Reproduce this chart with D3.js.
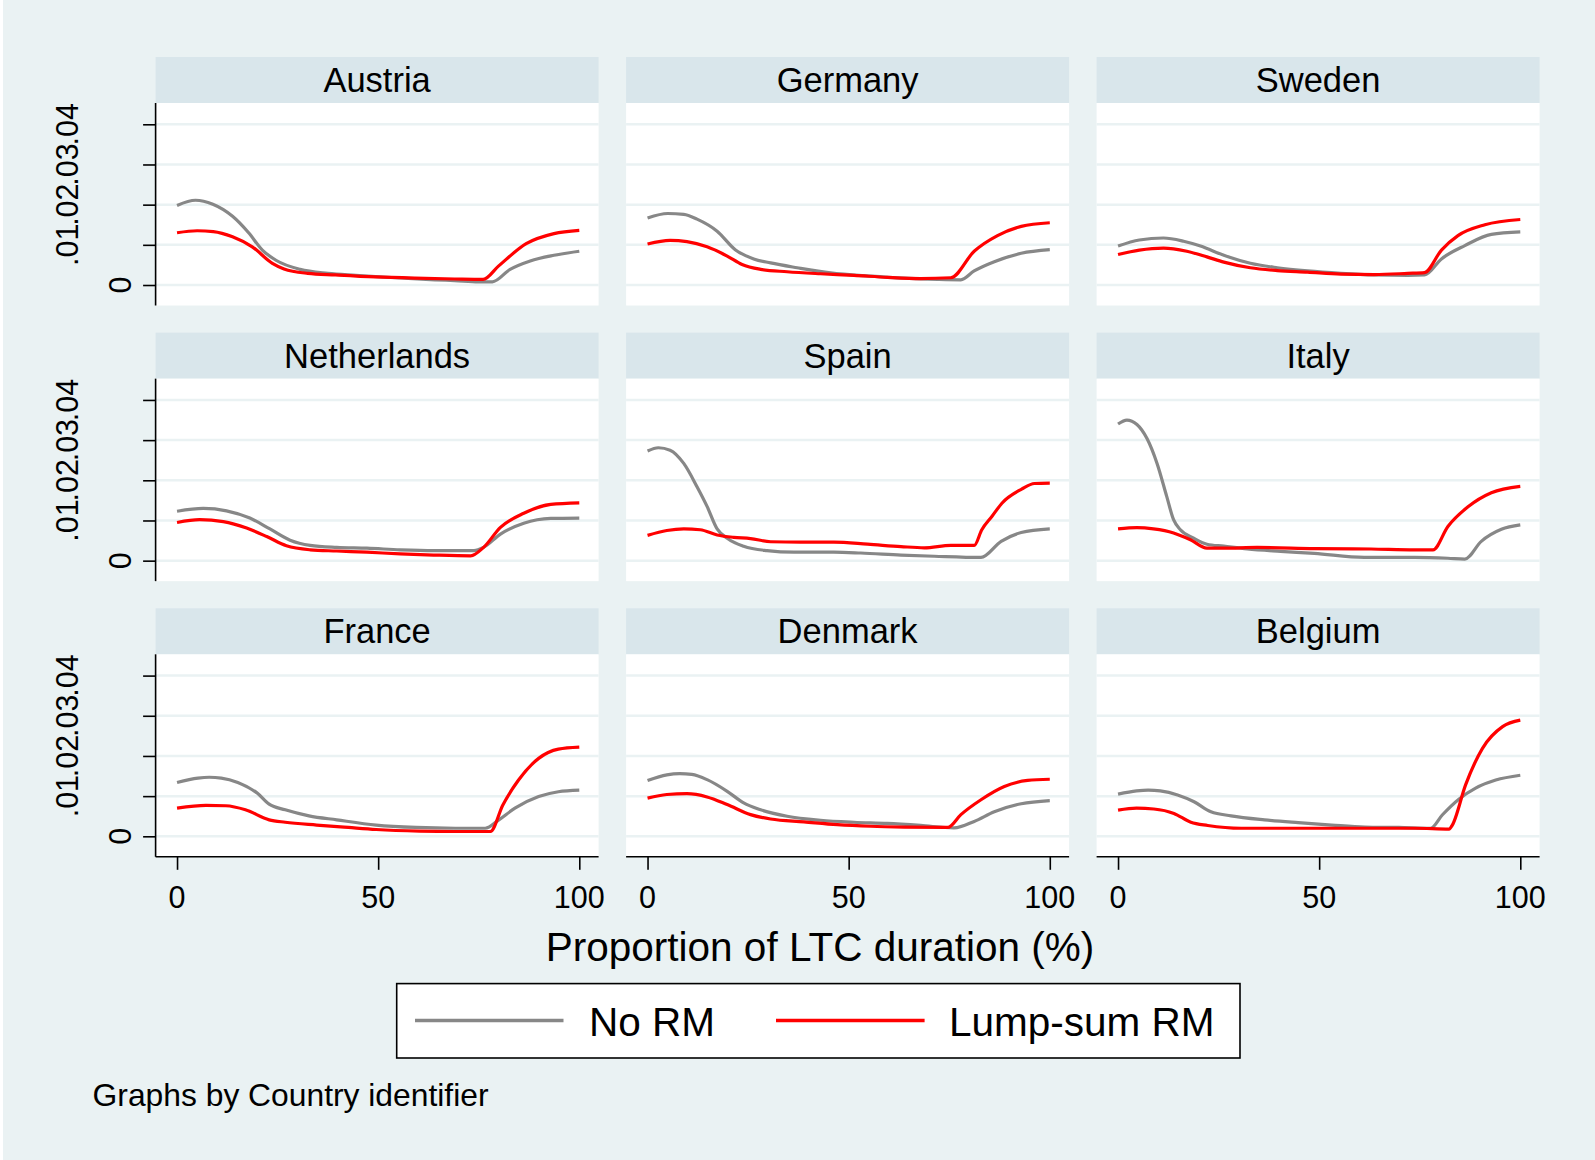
<!DOCTYPE html>
<html>
<head>
<meta charset="utf-8">
<script src="https://cdnjs.cloudflare.com/ajax/libs/d3/7.8.5/d3.min.js"></script>
<style>
  html, body { margin: 0; padding: 0; background: #ffffff; }
  svg { display: block; }
  text { font-family: "Liberation Sans", Arial, Helvetica, sans-serif; fill: #000; }
</style>
</head>
<body>
<svg id="chart" width="1595" height="1160"></svg>
<script>
// ---------------- DATA ----------------
const countries = ["Austria", "Germany", "Sweden", "Netherlands", "Spain", "Italy", "France", "Denmark", "Belgium"];
const seriesNames = ["No RM", "Lump-sum RM"];
const xTicks = [0, 50, 100];
const yTicks = [0, 0.01, 0.02, 0.03, 0.04];
const yTickLabels = ["0", ".01", ".02", ".03", ".04"];
const xTitle = "Proportion of LTC duration (%)";
const caption = "Graphs by Country identifier";

// [proportion of LTC duration (%), value]
const austriaNoRM = [[0,.0198],[4.6,.0211],[8.9,.0201],[13.8,.0171],[17.8,.0130],[21.2,.0087],[24.7,.0061],[30.6,.0039],[37.5,.0029],[44.4,.0024],[54.2,.0018],[64.1,.0013],[69,.0011],[75,.0008],[78.4,.0008],[82.8,.0039],[87.8,.0060],[93.7,.0074],[100,.0084]];
const austriaLump = [[0,.0130],[5,.0135],[9,.0133],[13.8,.0120],[18.7,.0095],[23.7,.0054],[26.6,.0040],[32.5,.0029],[39.4,.0025],[49.3,.0020],[59.2,.0017],[69,.0015],[76.1,.0014],[79.9,.0047],[86.8,.0103],[93.7,.0128],[100,.0136]];

const germanyNoRM = [[0,.0167],[5,.0178],[9,.0176],[12.3,.0164],[17.3,.0134],[21.8,.0088],[26.4,.0065],[30.6,.0055],[37.2,.0043],[45.5,.0030],[55.5,.0022],[63.8,.0017],[72.1,.0014],[77.9,.0013],[81.2,.0035],[86.2,.0058],[92.9,.0079],[100,.0088]];
const germanyLump = [[0,.0102],[5.6,.0111],[9.8,.0108],[14.8,.0095],[19.8,.0072],[23.5,.0051],[28.1,.0039],[34.7,.0033],[43,.0028],[51.3,.0024],[59.6,.0019],[67.9,.0016],[75.4,.0018],[81.2,.0084],[87,.0123],[92.9,.0146],[100,.0155]];

const swedenNoRM = [[0,.0097],[5.3,.0112],[11.3,.0117],[16.3,.0109],[20.5,.0097],[26.3,.0074],[32.9,.0054],[39.6,.0043],[47.1,.0035],[55.4,.0029],[63.7,.0025],[72,.0024],[76.2,.0025],[80.4,.0065],[86.2,.0098],[92.8,.0126],[100,.0132]];
const swedenLump = [[0,.0076],[5.3,.0087],[11.3,.0092],[17.1,.0084],[22.1,.0070],[26.3,.0057],[32.9,.0043],[39.6,.0036],[47.1,.0032],[55.4,.0027],[63.7,.0026],[72,.0029],[76.2,.0031],[80.4,.0087],[84.5,.0123],[91.2,.0150],[100,.0163]];

const netherlandsNoRM = [[0,.0123],[6.5,.0130],[12.3,.0124],[18.1,.0106],[23.1,.0079],[28.1,.0051],[33.1,.0038],[39.7,.0033],[47.2,.0031],[55.5,.0027],[63.8,.0025],[73.8,.0025],[76.2,.0033],[80.4,.0066],[86.2,.0093],[92.9,.0105],[100,.0106]];
const netherlandsLump = [[0,.0095],[5.6,.0102],[11.5,.0097],[17.3,.0081],[22.3,.0060],[27.2,.0037],[33.1,.0027],[39.7,.0024],[47.2,.0021],[55.5,.0017],[63.8,.0014],[73,.0012],[76.2,.0033],[80.4,.0083],[86.2,.0118],[92.9,.0140],[100,.0144]];

const spainNoRM = [[0,.0273],[2.7,.0281],[5.6,.0275],[9,.0242],[12.3,.0184],[14.8,.0135],[17.3,.0079],[19.8,.0056],[23.9,.0036],[29.7,.0025],[36.4,.0021],[46.3,.0021],[53,.0019],[63,.0014],[71.3,.0011],[82.9,.0008],[87.9,.0048],[92.9,.0070],[100,.0079]];
const spainLump = [[0,.0063],[4.8,.0075],[9,.0079],[13.1,.0077],[17.3,.0064],[21.4,.0058],[25.6,.0055],[30.6,.0047],[38,.0046],[46.3,.0046],[54.7,.0041],[63,.0035],[68.8,.0032],[75.4,.0038],[81.2,.0038],[83.1,.0077],[85.6,.0110],[88.1,.0143],[93,.0178],[96.2,.0192],[100,.0193]];

const italyNoRM = [[0,.0340],[2.2,.0350],[4.7,.0339],[7.2,.0304],[9.7,.0242],[12.1,.0160],[13.8,.0102],[15.5,.0077],[18.8,.0056],[22.1,.0041],[26.3,.0036],[32.1,.0029],[40.4,.0023],[48.8,.0018],[61.2,.0008],[73.7,.0008],[82,.0006],[86.2,.0004],[90.3,.0048],[95.3,.0078],[100,.0089]];
const italyLump = [[0,.0079],[4.7,.0082],[8.8,.0079],[13.8,.0069],[18,.0052],[22.1,.0031],[26.3,.0031],[34.6,.0033],[48.8,.0030],[62.9,.0029],[73.7,.0027],[78.3,.0027],[82,.0085],[87,.0134],[92.8,.0169],[100,.0185]];

const franceNoRM = [[0,.0134],[5.2,.0145],[8,.0147],[11,.0145],[15.1,.0134],[20,.0107],[22.9,.0080],[26.9,.0066],[32.8,.0051],[39.7,.0041],[49.5,.0028],[59.4,.0022],[69.2,.0020],[76.6,.0020],[80,.0041],[84,.0070],[89.9,.0099],[94.8,.0111],[100,.0115]];
const franceLump = [[0,.0070],[7.2,.0077],[12.1,.0076],[17,.0066],[22.9,.0041],[26.9,.0035],[34.7,.0028],[42.6,.0022],[49.5,.0017],[60.3,.0013],[69.2,.0012],[77.9,.0012],[81,.0078],[84.9,.0140],[89.9,.0194],[94.8,.0217],[100,.0222]];

const denmarkNoRM = [[0,.0139],[4.8,.0153],[8,.0156],[11,.0154],[14.8,.0141],[19.8,.0112],[23.9,.0083],[28.1,.0066],[34.7,.0050],[43,.0040],[51.3,.0035],[59.6,.0032],[67.9,.0027],[76.2,.0021],[81.2,.0037],[86.2,.0061],[92.9,.0081],[100,.0089]];
const denmarkLump = [[0,.0095],[4.8,.0104],[9.8,.0106],[14.8,.0098],[19.8,.0079],[25.6,.0054],[30.6,.0043],[38.9,.0036],[47.2,.0029],[55.5,.0025],[63.8,.0023],[74.6,.0022],[77.9,.0054],[82.9,.0091],[88.7,.0124],[94.5,.0139],[100,.0142]];

const belgiumNoRM = [[0,.0105],[4.6,.0113],[7.5,.0115],[10.5,.0113],[14.8,.0103],[18.9,.0086],[23.1,.0061],[28.1,.0051],[36.4,.0041],[44.8,.0034],[53.1,.0028],[61.4,.0023],[69.8,.0022],[77.7,.0020],[80.6,.0053],[84.8,.0093],[88.9,.0120],[93.9,.0140],[100,.0152]];
const belgiumLump = [[0,.0065],[4.6,.0070],[8.9,.0068],[13.9,.0057],[18.1,.0035],[22.3,.0027],[30.6,.0020],[40.6,.0020],[57.3,.0020],[73.9,.0020],[82.3,.0018],[83.1,.0028],[86.4,.0128],[90.6,.0219],[95.6,.0273],[100,.0289]];

const noRMSeries = [austriaNoRM, germanyNoRM, swedenNoRM, netherlandsNoRM, spainNoRM, italyNoRM, franceNoRM, denmarkNoRM, belgiumNoRM];
const lumpSeries = [austriaLump, germanyLump, swedenLump, netherlandsLump, spainLump, italyLump, franceLump, denmarkLump, belgiumLump];

// ---------------- LAYOUT ----------------
const W = 1595, H = 1160;
const BG = "#EAF2F3", HEADER = "#D9E6EB", GRID = "#EAF2F3";
const GRAY = "#878787", RED = "#FF0000";
const colLeft0 = 155.6, colStep = 470.5, panelW = 443;
const rowTop0 = 57, rowStep = 275.65, headerH = 46, plotH = 202.5;

const svg = d3.select("#chart");
svg.append("rect").attr("x", 3).attr("y", 0).attr("width", W - 3).attr("height", H).attr("fill", BG);

const xDomain = [-5.33, 104.8];
const yDomain = [-0.0051, 0.0453];
const line = (xs, ys) => d3.line().x(d => xs(d[0])).y(d => ys(d[1])).curve(d3.curveMonotoneX);

countries.forEach((name, i) => {
  const r = Math.floor(i / 3), c = i % 3;
  const left = colLeft0 + c * colStep;
  const top = rowTop0 + r * rowStep;
  const pTop = top + headerH, pBot = pTop + plotH;
  const xs = d3.scaleLinear().domain(xDomain).range([left, left + panelW]);
  const ys = d3.scaleLinear().domain(yDomain).range([pBot, pTop]);
  const g = svg.append("g");

  // header strip
  g.append("rect").attr("x", left).attr("y", top).attr("width", panelW).attr("height", headerH).attr("fill", HEADER);
  g.append("text").attr("x", left + panelW / 2).attr("y", top + 35)
    .attr("text-anchor", "middle").style("font-size", "34.5px").text(name);

  // plot region
  g.append("rect").attr("x", left).attr("y", pTop).attr("width", panelW).attr("height", plotH).attr("fill", "#ffffff");

  // gridlines
  g.selectAll(".grid").data(yTicks).enter().append("line")
    .attr("x1", left).attr("x2", left + panelW)
    .attr("y1", d => ys(d)).attr("y2", d => ys(d))
    .attr("stroke", GRID).attr("stroke-width", 2.5);

  // series
  g.append("path").datum(noRMSeries[i]).attr("d", line(xs, ys))
    .attr("fill", "none").attr("stroke", GRAY).attr("stroke-width", 3.2).attr("stroke-linejoin", "round");
  g.append("path").datum(lumpSeries[i]).attr("d", line(xs, ys))
    .attr("fill", "none").attr("stroke", RED).attr("stroke-width", 3.2).attr("stroke-linejoin", "round");

  // y axis (first column only)
  if (c === 0) {
    const yAxis = d3.axisLeft(ys).tickValues(yTicks).tickSize(12.5).tickFormat("");
    const ga = g.append("g").attr("transform", `translate(${left},0)`).call(yAxis);
    ga.select(".domain").attr("d", `M0,${pTop}V${pBot}`).attr("stroke", "#000").attr("stroke-width", 1.6);
    ga.selectAll(".tick line").attr("stroke", "#000").attr("stroke-width", 1.6);
    yTicks.forEach((t, k) => {
      const bx = k === 0 ? 131 : 77.5;
      g.append("text")
        .attr("transform", `translate(${bx},${ys(t)}) rotate(-90)`)
        .attr("text-anchor", "middle").style("font-size", "30.5px").text(yTickLabels[k]);
    });
  }

  // x axis (bottom row only)
  if (r === 2) {
    const xAxis = d3.axisBottom(xs).tickValues(xTicks).tickSize(13).tickFormat("");
    const gx = g.append("g").attr("transform", `translate(0,${pBot})`).call(xAxis);
    gx.select(".domain").attr("d", `M${left},0H${left + panelW}`).attr("stroke", "#000").attr("stroke-width", 1.6);
    gx.selectAll(".tick line").attr("stroke", "#000").attr("stroke-width", 1.6);
    xTicks.forEach(t => {
      g.append("text").attr("x", xs(t)).attr("y", pBot + 51)
        .attr("text-anchor", "middle").style("font-size", "30.5px").text(String(t));
    });
  }
});

// x axis title
svg.append("text").attr("x", 820).attr("y", 961).attr("text-anchor", "middle")
  .style("font-size", "40.5px").text(xTitle);

// legend
const leg = svg.append("g");
leg.append("rect").attr("x", 396.7).attr("y", 983.6).attr("width", 843.3).attr("height", 74.4)
  .attr("fill", "#ffffff").attr("stroke", "#000").attr("stroke-width", 1.6);
const legItems = [
  { name: seriesNames[0], color: GRAY, x1: 415, x2: 563.5, tx: 589 },
  { name: seriesNames[1], color: RED, x1: 776, x2: 924.6, tx: 949 }
];
legItems.forEach(it => {
  leg.append("line").attr("x1", it.x1).attr("x2", it.x2).attr("y1", 1020.5).attr("y2", 1020.5)
    .attr("stroke", it.color).attr("stroke-width", 3.5);
  leg.append("text").attr("x", it.tx).attr("y", 1036).style("font-size", "40.5px").text(it.name);
});

// caption
svg.append("text").attr("x", 92.6).attr("y", 1106).style("font-size", "31.8px").text(caption);
</script>
</body>
</html>
